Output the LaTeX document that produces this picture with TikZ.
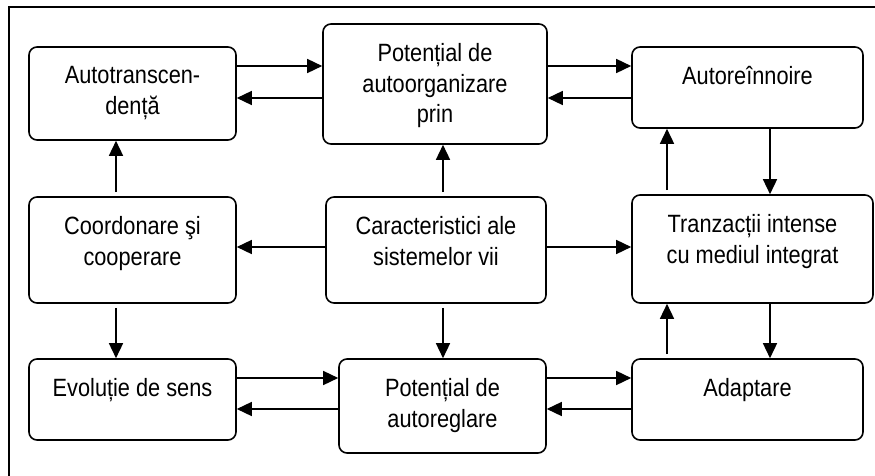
\documentclass[tikz,border=0pt]{standalone}
\usepackage{fontspec}
\setmainfont{Liberation Sans}[FakeStretch=0.87]
\usetikzlibrary{arrows.meta}
\tikzset{
  box/.style={draw, rounded corners=8pt, line width=1.6pt},
  txt/.style={anchor=north, align=center, inner sep=0pt, yshift=-20pt},
  arr/.style={-{Triangle[length=15pt,width=14pt]}, line width=1.5pt},
  gap/.style={shorten <=4pt},
}
\begin{document}
\begin{tikzpicture}[x=1pt,y=-1pt,font=\fontsize{25}{30.5}\selectfont]
    \useasboundingbox (0,0) rectangle (875,476);
    \draw[line width=1.6pt] (9,490) |- (890,7);
    %% rows and columns of the connectors
    \coordinate (ya) at (0,66);  \coordinate (yb) at (0,98);
    \coordinate (ym) at (0,247);
    \coordinate (yc) at (0,378); \coordinate (yd) at (0,409);
    \coordinate (xa) at (116,0); \coordinate (xb) at (443,0);
    \coordinate (xc) at (667,0); \coordinate (xd) at (770,0);
    %% top row
    \node[box,minimum width=207pt,minimum height=93pt,label={[txt]north:Autotranscen-\\dență}] (autotr) at (132.5,93.5) {};
    \node[box,minimum width=224pt,minimum height=120pt,label={[txt]north:Potențial de\\autoorganizare\\prin}] (porg) at (435,84) {};
    \node[box,minimum width=231pt,minimum height=81pt,label={[txt]north:Autoreînnoire}] (autor) at (747.5,87.5) {};
    %% middle row
    \node[box,minimum width=207pt,minimum height=106pt,label={[txt]north:Coordonare şi\\cooperare}] (coord) at (132.5,250) {};
    \node[box,minimum width=220pt,minimum height=106pt,label={[txt]north:Caracteristici ale\\sistemelor vii}] (carac) at (436,250) {};
    \node[box,minimum width=241pt,minimum height=108pt,label={[txt]north:Tranzacții intense\\cu mediul integrat}] (tranz) at (752.5,249) {};
    %% bottom row
    \node[box,minimum width=207pt,minimum height=81pt,label={[txt]north:Evoluție de sens}] (evol) at (132.5,399.5) {};
    \node[box,minimum width=207pt,minimum height=94pt,label={[txt]north:Potențial de\\autoreglare}] (preg) at (442.5,406) {};
    \node[box,minimum width=231pt,minimum height=81pt,label={[txt]north:Adaptare}] (adapt) at (747.5,399.5) {};
    %% connectors
    \draw[arr] (autotr.east |- ya) -- (porg.west |- ya);
    \draw[arr] (porg.west |- yb) -- (autotr.east |- yb);
    \draw[arr] (porg.east |- ya) -- (autor.west |- ya);
    \draw[arr] (autor.west |- yb) -- (porg.east |- yb);
    \draw[arr,gap] (coord.north -| xa) -- (autotr.south -| xa);
    \draw[arr,gap] (carac.north -| xb) -- (porg.south -| xb);
    \draw[arr,gap] (tranz.north -| xc) -- (autor.south -| xc);
    \draw[arr] (autor.south -| xd) -- (tranz.north -| xd);
    \draw[arr] (carac.west |- ym) -- (coord.east |- ym);
    \draw[arr] (carac.east |- ym) -- (tranz.west |- ym);
    \draw[arr,gap] (coord.south -| xa) -- (evol.north -| xa);
    \draw[arr,gap] (carac.south -| xb) -- (preg.north -| xb);
    \draw[arr] (evol.east |- yc) -- (preg.west |- yc);
    \draw[arr] (preg.west |- yd) -- (evol.east |- yd);
    \draw[arr] (preg.east |- yc) -- (adapt.west |- yc);
    \draw[arr] (adapt.west |- yd) -- (preg.east |- yd);
    \draw[arr,gap] (adapt.north -| xc) -- (tranz.south -| xc);
    \draw[arr] (tranz.south -| xd) -- (adapt.north -| xd);
\end{tikzpicture}
\end{document}
